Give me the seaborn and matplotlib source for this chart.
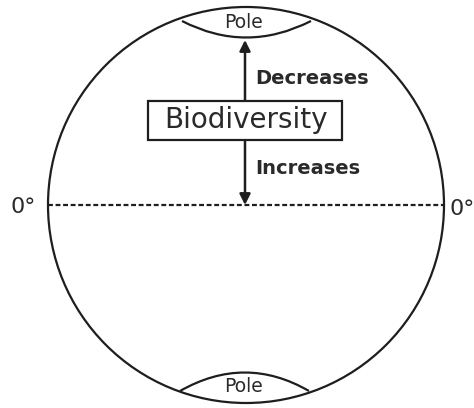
import numpy as np
import seaborn as sns
import matplotlib.pyplot as plt
from matplotlib.patches import Circle, Rectangle, PathPatch
from matplotlib.path import Path

# labels of the diagram
box_label = "Biodiversity"
up_label = "Decreases"
down_label = "Increases"
pole_labels = ["Pole", "Pole"]
equator_labels = ["0°", "0°"]

sns.set_style("white")
plt.rcParams['font.family'] = ['DejaVu Sans']

ink = "#1e1e1e"
txt = "#2a2a2a"
fig = plt.figure(figsize=(4.74, 4.08), dpi=100)
ax = fig.add_axes([0, 0, 1, 1])
ax.set_xlim(0, 474)
ax.set_ylim(408, 0)
ax.set_aspect("equal")
ax.axis("off")

cx, cy, r = 246, 205, 198
ax.add_patch(Circle((cx, cy), r, fill=False, ec=ink, lw=1.6))

# equator (seaborn line)
sns.lineplot(x=[cx - r, cx + r], y=[cy, cy], ax=ax, color=ink, lw=1.6,
             linestyle=(0, (2.2, 1.2)))

# pole lenses
top = Path([(182, 21), (246, 54), (311, 21)], [Path.MOVETO, Path.CURVE3, Path.CURVE3])
bot = Path([(180, 391), (245, 354), (309, 391)], [Path.MOVETO, Path.CURVE3, Path.CURVE3])
ax.add_patch(PathPatch(top, fill=False, ec=ink, lw=1.6))
ax.add_patch(PathPatch(bot, fill=False, ec=ink, lw=1.6))
ax.text(244, 22, pole_labels[0], ha="center", va="center", fontsize=13.5, color=txt)
ax.text(244, 386, pole_labels[1], ha="center", va="center", fontsize=13.5, color=txt)

# arrow
ax.annotate("", xy=(245, 40), xytext=(245, 205),
            arrowprops=dict(arrowstyle="<|-|>", color=ink, lw=1.8,
                            mutation_scale=16, shrinkA=0, shrinkB=0))

# box
ax.add_patch(Rectangle((148, 101), 194, 39, fc="white", ec=ink, lw=1.6, zorder=3))
ax.text(246, 120, box_label, ha="center", va="center", fontsize=20,
        color=txt, zorder=4)

ax.text(255, 79, up_label, ha="left", va="center", fontsize=14,
        fontweight="bold", color=txt)
ax.text(255, 168, down_label, ha="left", va="center", fontsize=14,
        fontweight="bold", color=txt)

ax.text(23, 207, equator_labels[0], ha="center", va="center", fontsize=16, color=txt)
ax.text(462, 209, equator_labels[1], ha="center", va="center", fontsize=16, color=txt)

fig.savefig("out.png", dpi=100)
